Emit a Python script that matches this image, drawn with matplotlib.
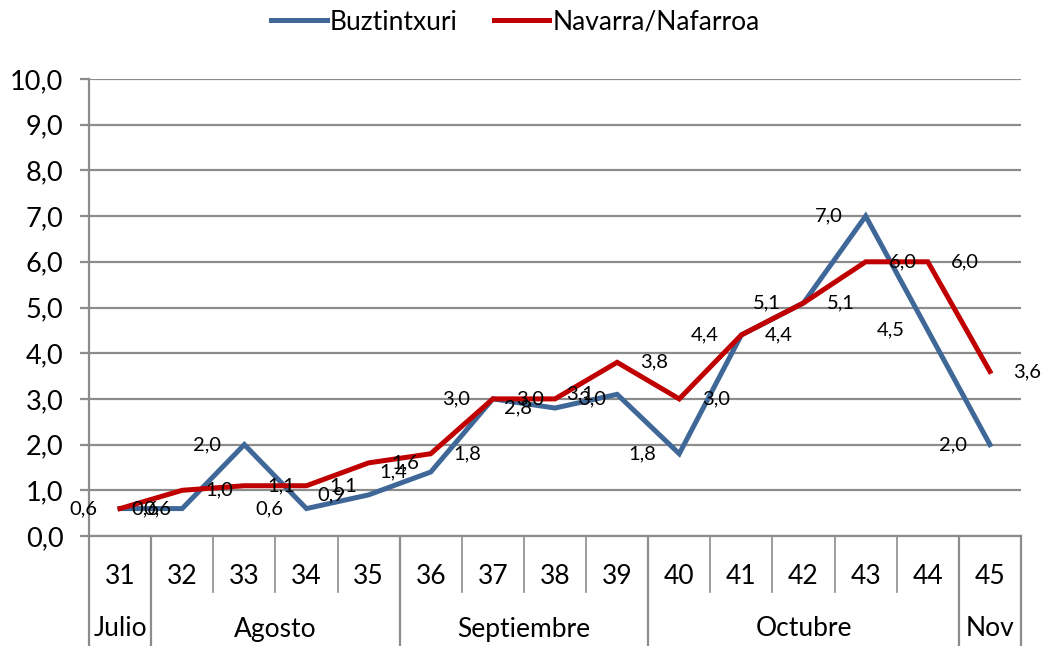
import matplotlib
matplotlib.use("Agg")
import matplotlib.pyplot as plt
import matplotlib.transforms as mtransforms

weeks = ["31", "32", "33", "34", "35", "36", "37", "38", "39", "40", "41", "42", "43", "44", "45"]
buztintxuri = [0.6, 0.6, 2.0, 0.6, 0.9, 1.4, 3.0, 2.8, 3.1, 1.8, 4.4, 5.1, 7.0, 4.5, 2.0]
navarra = [0.6, 1.0, 1.1, 1.1, 1.6, 1.8, 3.0, 3.0, 3.8, 3.0, 4.4, 5.1, 6.0, 6.0, 3.6]
months = ["Julio", "Agosto", "Septiembre", "Octubre", "Nov"]
month_weeks = [1, 4, 4, 5, 1]   # weeks per month group

BLUE, RED, GRID, INK = "#3f6898", "#c00000", "#8c8c8c", "#000000"

plt.rcParams.update({"font.family": ["Lato", "DejaVu Sans"], "text.color": INK})

fig = plt.figure(figsize=(10.41, 6.46), dpi=100)
W, H = 1041, 646
left, right, top, bottom = 89, 1021, 79, 536
ax = fig.add_axes([left / W, (H - bottom) / H, (right - left) / W, (bottom - top) / H])

x = list(range(len(weeks)))
ax.plot(x, buztintxuri, color=BLUE, lw=3.6, solid_joinstyle="miter", label="Buztintxuri", zorder=3)
ax.plot(x, navarra, color=RED, lw=3.6, solid_joinstyle="miter", label="Navarra/Nafarroa", zorder=4)

fmt = lambda v: f"{v:.1f}".replace(".", ",")
for xi, v in zip(x, buztintxuri):
    ax.annotate(fmt(v), (xi, v), xytext=(-37, 0), textcoords="offset pixels",
                ha="center", va="center", fontsize=14.5, zorder=5, annotation_clip=False)
for xi, v in zip(x, navarra):
    ax.annotate(fmt(v), (xi, v), xytext=(37, 0), textcoords="offset pixels",
                ha="center", va="center", fontsize=14.5, zorder=5, annotation_clip=False)

ax.set_xlim(-0.5, len(weeks) - 0.5)
ax.set_ylim(0, 10)
ax.set_yticks(range(0, 11))
ax.set_yticklabels([fmt(v) for v in range(0, 11)], fontsize=19.5)
ax.yaxis.grid(True, color=GRID, lw=1.6)
ax.set_axisbelow(True)
ax.set_xticks([])
for s in ("top", "right", "bottom"):
    ax.spines[s].set_visible(False)
ax.spines["left"].set_color(GRID)
ax.spines["left"].set_linewidth(1.6)
ax.tick_params(axis="y", length=6.5, width=1.6, color=GRID, pad=12)

# category table under the axis
tr = mtransforms.blended_transform_factory(ax.transData, ax.transAxes)
ax_h = bottom - top
y_week = -(592 - bottom) / ax_h
y_bot = -(H - bottom) / ax_h
ax.plot([-0.5, len(weeks) - 0.5], [0, 0], transform=tr, color=GRID, lw=1.6, clip_on=False, zorder=2)
for i in range(1, len(weeks)):
    ax.plot([i - 0.5, i - 0.5], [0, y_week], transform=tr, color=GRID, lw=1.2, clip_on=False)
for i, w in enumerate(weeks):
    ax.text(i, -(576 - bottom) / ax_h, w, transform=tr, ha="center", va="center", fontsize=19)
edge = -0.5
ax.plot([edge, edge], [0, y_bot], transform=tr, color=GRID, lw=1.6, clip_on=False)
for m, n in zip(months, month_weeks):
    ax.text(edge + n / 2, -(629 - bottom) / ax_h, m, transform=tr, ha="center", va="center", fontsize=19)
    edge += n
    ax.plot([edge, edge], [0, y_bot], transform=tr, color=GRID, lw=1.6, clip_on=False)

fig.legend(loc="center", bbox_to_anchor=(0.495, 1 - 22 / H), ncol=2, frameon=False,
           fontsize=19, handlelength=2.1, handletextpad=0.1, columnspacing=1.4)

fig.savefig("out.png", dpi=100)
